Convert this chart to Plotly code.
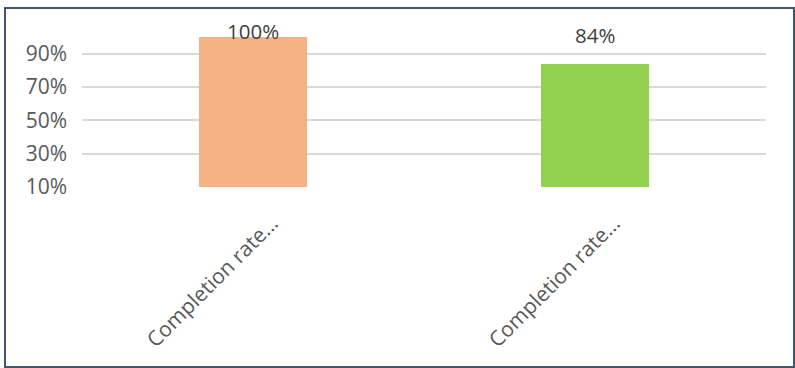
import plotly.graph_objects as go

categories = ["Completion rate (group 1)", "Completion rate (group 2)"]
tick_labels = ["Completion rate…", "Completion rate…"]
values = [100, 84]
value_labels = ["100%", "84%"]
bar_colors = ["#F4B183", "#92D050"]
label_shift = [6, 29]

W, H = 795, 368
ml, mr, mt, mb = 82, 29, 37, 181
pw, ph = W - ml - mr, H - mt - mb

xpos = list(range(len(categories)))

fig = go.Figure()
fig.add_trace(go.Bar(
    x=xpos, y=values, marker=dict(color=bar_colors, line=dict(width=0)),
    width=0.313, hoverinfo="skip", showlegend=False,
))

for xi, v, lab, s in zip(xpos, values, value_labels, label_shift):
    fig.add_annotation(x=xi, y=v, text=lab, showarrow=False, yanchor="middle",
                       yshift=s, font=dict(family="Open Sans", size=20.5, color="#404040"))

def px2x(p):
    return (p - ml) / pw

def py2y(p):
    return (H - mb - p) / ph

fig.add_shape(type="rect", xref="paper", yref="paper",
              x0=px2x(5), x1=px2x(794), y0=py2y(8), y1=py2y(367),
              line=dict(color="#44546A", width=2), fillcolor="rgba(0,0,0,0)", layer="above")

fig.update_layout(
    width=W, height=H,
    margin=dict(l=ml, r=mr, t=mt, b=mb, autoexpand=False),
    paper_bgcolor="white", plot_bgcolor="white",
    font=dict(family="Open Sans", size=21, color="#595959"),
    xaxis=dict(tickmode="array", tickvals=xpos, ticktext=tick_labels, tickangle=-45,
               range=[-0.5, 1.5], showgrid=False, zeroline=False, showline=False,
               ticks="", ticklabelstandoff=19, ticklabelshift=19,
               tickfont=dict(size=21, color="#595959")),
    yaxis=dict(range=[10, 100], tick0=10, dtick=20, ticksuffix="%",
               showgrid=True, gridcolor="#D9D9D9", gridwidth=1.5, zeroline=False,
               showline=False, ticks="", ticklabelstandoff=14,
               tickfont=dict(size=21, color="#595959")),
    bargap=0,
)

fig.write_html("out.html")
